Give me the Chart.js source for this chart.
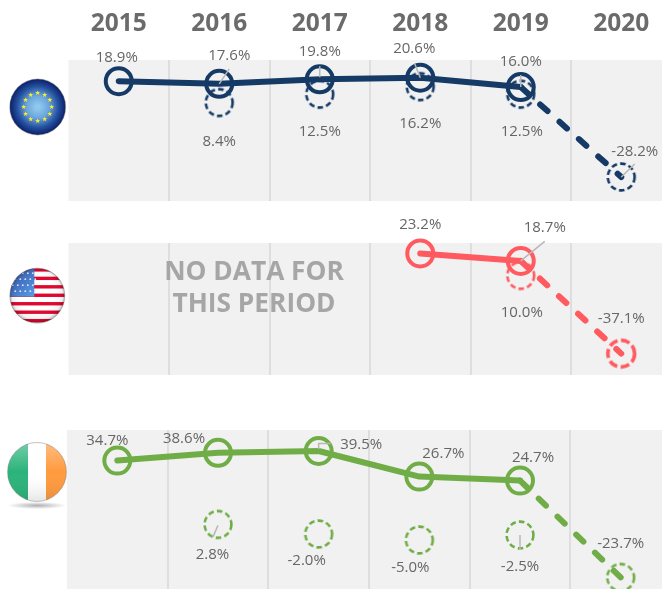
<!DOCTYPE html>
<html><head><meta charset="utf-8">
<style>
html,body{margin:0;padding:0;background:#fff;width:662px;height:589px;overflow:hidden}
canvas{position:absolute;left:0}
#c1{top:0}#c2{top:210px}#c3{top:400px}
</style>
<script src="https://cdn.jsdelivr.net/npm/chart.js@4"></script>
</head><body>
<canvas id="c1" width="680" height="205"></canvas>
<canvas id="c2" width="680" height="170"></canvas>
<canvas id="c3" width="680" height="190"></canvas>
<script>
const years = ['2015','2016','2017','2018','2019','2020'];

const euActual   = [18.9,17.6,19.8,20.6,16.0,null];
const euForecast = [null,null,null,null,16.0,-28.2];
const euOther    = [null,8.4,12.5,16.2,12.5,-28.2];

const usActual   = [null,null,null,23.2,18.7,null];
const usForecast = [null,null,null,null,18.7,-37.1];
const usOther    = [null,null,null,null,10.0,-37.1];

const ieActual   = [34.7,38.6,39.5,26.7,24.7,null];
const ieForecast = [null,null,null,null,24.7,-23.7];
const ieOther    = [null,2.8,-2.0,-5.0,-2.5,-23.7];

// label offsets from the point: [dx, dy], optional leader polyline
const euActualLabels = [[-2,-23],[10,-28.5,[[0,0],[10,-15]]],[0,-28,[[0,-2],[0,-13]]],[-6,-29,[[0,0],[-5.5,-14]]],[0,-25,[[0,0],[0,-12]]],null];
const euOtherLabels  = [null,[0,39],[0,38],[0,37],[1,38],[13.5,-25,[[0,0],[13.5,-13]]]];
const usActualLabels = [null,null,null,[0,-29],[24,-33,[[0,0],[24,-19.5]]],null];
const usOtherLabels  = [null,null,null,null,[1,37],[0,-35]];
const ieActualLabels = [[-10,-20],[-34,-14],[42.5,-6,[[0,-2],[0,-7.5],[12,-7.5]]],[24,-23],[13,-23],null];
const ieOtherLabels  = [null,[-5.5,30,[[0,1],[-5,12.5]]],[-12,27],[-9,28],[0,32,[[0,0],[0,15]]],[0,-34]];

const NAVY='#163a66', PINK='#ff5a5f', GREEN='#70ad47';
const LABEL_FONT='15px "Open Sans"';
const LABEL_COLOR='#666666';

function dashedCircle(color,width,dash){
  const c=document.createElement('canvas');c.width=c.height=34;
  const x=c.getContext('2d');x.strokeStyle=color;x.lineWidth=width||2.6;x.setLineDash(dash||[5.6,3.2]);
  x.beginPath();x.arc(17,17,13.4,0,Math.PI*2);x.stroke();
  return c;
}

function star(ctx,cx,cy,r){
  ctx.beginPath();
  for(let i=0;i<10;i++){
    const a=-Math.PI/2+i*Math.PI/5, q=i%2?r*0.42:r;
    ctx.lineTo(cx+q*Math.cos(a),cy+q*Math.sin(a));
  }
  ctx.closePath();ctx.fill();
}
function gloss(ctx,cx,cy,r){
  const g=ctx.createRadialGradient(cx,cy-r*0.15,r*0.55,cx,cy,r);
  g.addColorStop(0,'rgba(255,255,255,0)');g.addColorStop(0.8,'rgba(0,0,0,0.06)');g.addColorStop(1,'rgba(0,0,0,0.3)');
  ctx.fillStyle=g;ctx.fillRect(cx-r,cy-r,2*r,2*r);
}
const flags={
  eu(ctx,cx,cy,r){
    const g=ctx.createRadialGradient(cx,cy,2,cx,cy,r);
    g.addColorStop(0,'#8fc8ee');g.addColorStop(0.35,'#6ba6dc');g.addColorStop(0.72,'#24509f');g.addColorStop(1,'#0b1f68');
    ctx.fillStyle=g;ctx.fillRect(cx-r,cy-r,2*r,2*r);
    ctx.fillStyle='#f6ee2a';
    for(let i=0;i<12;i++){const a=i*Math.PI/6;star(ctx,cx+14*Math.sin(a),cy-14*Math.cos(a),2.6);}
  },
  us(ctx,cx,cy,r){
    ctx.fillStyle='#fff';ctx.fillRect(cx-r,cy-r,2*r,2*r);
    ctx.fillStyle='#e0062e';
    const h=2*r/13;
    for(let i=0;i<13;i+=2)ctx.fillRect(cx-r,cy-r+i*h,2*r,h*0.8);
    const g=ctx.createLinearGradient(cx-r,cy-r,cx,cy);
    g.addColorStop(0,'#2f4ea8');g.addColorStop(1,'#5aa0e6');
    ctx.fillStyle=g;ctx.fillRect(cx-r,cy-r,r-3,r+1);
    ctx.fillStyle='#dfeaf8';
    for(let i=0;i<5;i++)for(let j=0;j<4;j++){ctx.beginPath();ctx.arc(cx-r+3+i*5+(j%2)*2.5,cy-r+5+j*6,0.9,0,7);ctx.fill();}
    gloss(ctx,cx,cy,r);
  },
  ie(ctx,cx,cy,r){
    ctx.fillStyle='#fff';ctx.fillRect(cx-r,cy-r,2*r,2*r);
    ctx.fillStyle='#2bb37a';ctx.fillRect(cx-r,cy-r,r-9,2*r);
    ctx.fillStyle='#ff9a3e';ctx.fillRect(cx+9,cy-r,r-9,2*r);
    const g=ctx.createLinearGradient(0,cy-r,0,cy+r);
    g.addColorStop(0,'rgba(255,255,255,0.35)');g.addColorStop(0.5,'rgba(255,255,255,0)');g.addColorStop(1,'rgba(0,0,0,0.1)');
    ctx.fillStyle=g;ctx.fillRect(cx-r,cy-r,2*r,2*r);
  }
};

function makePanel(p){
  const bg={id:'panelBg',beforeDraw(chart){
    const {ctx,chartArea:a}=chart;
    ctx.save();ctx.fillStyle='#f1f1f1';ctx.fillRect(a.left,a.top,a.right-a.left,a.bottom-a.top);ctx.restore();
  }};
  const anno={id:'panelText',afterDatasetsDraw(chart){
    const {ctx,scales:{x,y}}=chart;
    ctx.save();
    ctx.font=LABEL_FONT;ctx.textAlign='center';ctx.textBaseline='middle';
    [[p.actual,p.actualLabels],[p.other,p.otherLabels]].forEach(([vals,labs])=>{
      vals.forEach((v,i)=>{
        const l=labs[i];
        if(v===null||!l)return;
        const px=x.getPixelForValue(i),py=y.getPixelForValue(v);
        if(l[2]){
          ctx.strokeStyle='#b8b8b8';ctx.lineWidth=1.5;ctx.beginPath();
          l[2].forEach(q=>ctx.lineTo(px+q[0],py+q[1]));ctx.stroke();
        }
        ctx.fillStyle=LABEL_COLOR;
        ctx.fillText(v.toFixed(1)+'%',px+l[0],py+l[1]);
      });
    });
    if(p.note){
      ctx.font='bold 26.3px "Open Sans"';ctx.fillStyle='#a6a6a6';
      p.note.forEach((t,i)=>ctx.fillText(t,254,chart.chartArea.top+29.5+i*32));
    }
    ctx.restore();
  },afterDraw(chart){
    const ctx=chart.ctx,f=p.flag;
    ctx.save();
    if(f.shadow){
      const s=ctx.createRadialGradient(f.x,0,1,f.x,0,f.r);
      ctx.translate(0,f.y+f.r+4);ctx.scale(1,0.12);
      s.addColorStop(0,'rgba(0,0,0,0.3)');s.addColorStop(1,'rgba(0,0,0,0)');
      ctx.fillStyle=s;ctx.fillRect(f.x-f.r,-f.r,2*f.r,2*f.r);
      ctx.restore();ctx.save();
    }
    ctx.beginPath();ctx.arc(f.x,f.y,f.r,0,Math.PI*2);ctx.clip();
    flags[f.kind](ctx,f.x,f.y,f.r);
    ctx.restore();
    ctx.save();ctx.strokeStyle='rgba(120,120,120,0.45)';ctx.lineWidth=1;
    ctx.beginPath();ctx.arc(f.x,f.y,f.r,0,Math.PI*2);ctx.stroke();ctx.restore();
  }};
  const thin=dashedCircle(p.color), last=p.lastCircle||thin;
  return new Chart(document.getElementById(p.id),{
    type:'line',
    data:{labels:years,datasets:[
      {data:p.actual,borderColor:p.color,borderWidth:6,borderCapStyle:'round',borderJoinStyle:'round',tension:0,clip:false,
       pointRadius:13,pointBorderWidth:4,pointBackgroundColor:'rgba(0,0,0,0)',pointBorderColor:p.color},
      {data:p.forecast,borderColor:p.color,borderWidth:6,borderCapStyle:'round',borderDash:[10,16],tension:0,clip:false,pointRadius:0},
      {data:p.other,showLine:false,clip:false,pointRadius:14,pointStyle:c=>c.dataIndex===5?last:thin,borderColor:p.color}
    ]},
    plugins:[bg,anno],
    options:{
      responsive:false,animation:false,events:[],
      layout:{padding:p.padding,autoPadding:false},
      plugins:{legend:{display:false},tooltip:{enabled:false}},
      scales:{
        x:{type:'category',position:'top',offset:true,display:true,
           grid:{offset:true,drawTicks:false,lineWidth:2,color:c=>c.index===0?'rgba(0,0,0,0)':'#dedede'},
           border:{display:false},
           ticks:{display:p.showYears,autoSkip:false,maxRotation:0,padding:21.5,color:'#6b6b6b',font:{family:'"Open Sans"',size:24.5,weight:'bold'}},
           afterFit(s){s.height=p.axisHeight;}},
        y:{display:false,min:p.min,max:p.max}
      }
    }
  });
}

makePanel({id:'c1',color:NAVY,actual:euActual,forecast:euForecast,other:euOther,actualLabels:euActualLabels,otherLabels:euOtherLabels,
  min:-40,max:29.3,showYears:true,axisHeight:60,padding:{left:68.5,right:8.5,top:0,bottom:4},flag:{kind:'eu',x:37.7,y:107,r:28}});
makePanel({id:'c2',color:PINK,actual:usActual,forecast:usForecast,other:usOther,actualLabels:usActualLabels,otherLabels:usOtherLabels,
  lastCircle:dashedCircle(PINK,3.6,[9,3.5]),
  min:-50,max:29.5,showYears:false,axisHeight:0,padding:{left:68.5,right:8.5,top:33,bottom:5},flag:{kind:'us',x:37.3,y:85.7,r:27.5},note:['NO DATA FOR','THIS PERIOD']});
makePanel({id:'c3',color:GREEN,actual:ieActual,forecast:ieForecast,other:ieOther,actualLabels:ieActualLabels,otherLabels:ieOtherLabels,
  min:-30,max:50,showYears:false,axisHeight:0,padding:{left:67,right:9,top:30,bottom:0},flag:{kind:'ie',x:37,y:72,r:29.5,shadow:true}});
</script>
</body></html>
